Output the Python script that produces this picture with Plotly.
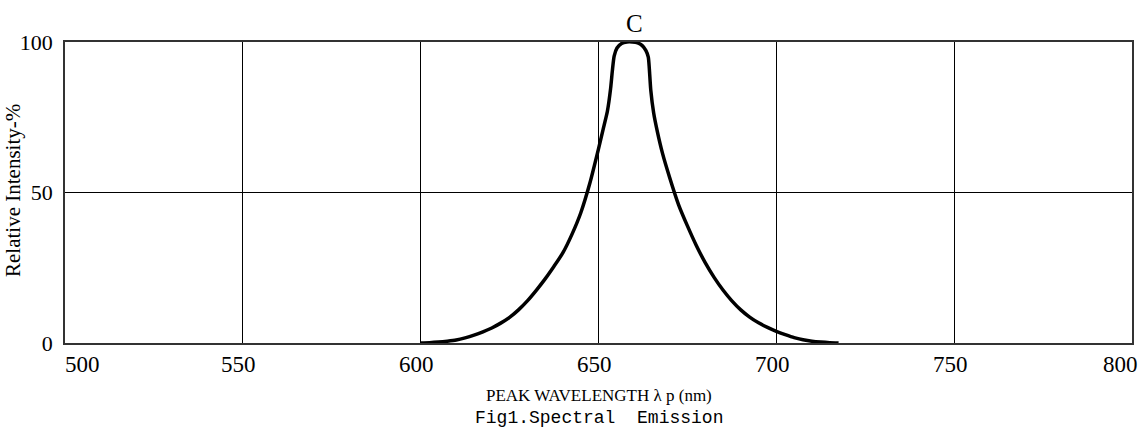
import plotly.graph_objects as go

# Spectral emission curve
wavelength = [600, 602.5, 605, 607.5, 610, 612.5, 615, 617.5, 620, 622.5, 625, 627.5, 630,
              632.5, 635, 637.5, 640, 642.5, 645, 647.5, 650, 651.3, 652.5, 653.4, 653.9,
              654.4, 655.2, 656.5, 658, 659.5, 661, 662.3, 663.3, 664, 664.3, 664.7, 665.5,
              666.5, 668, 670, 672.5, 675, 677.5, 680, 682.5, 685, 687.5, 690, 692.5, 695,
              697.5, 700, 702.5, 705, 707.5, 710, 712.5, 715, 717.5]
intensity = [0, 0.1, 0.3, 0.6, 1.0, 1.7, 2.6, 3.7, 5.0, 6.6, 8.5, 11.0, 14.0,
             17.5, 21.3, 25.5, 30.0, 36.0, 43.2, 52.8, 64.5, 71.0, 77.0, 84.5, 90.5,
             95.3, 98.0, 99.5, 100, 100, 99.7, 98.8, 97.2, 95.0, 91.0, 84.0, 76.5,
             70.5, 63.0, 55.0, 46.0, 38.9, 32.4, 26.7, 21.8, 17.6, 14.0, 11.0, 8.6, 6.7,
             5.2, 3.9, 2.8, 1.8, 1.1, 0.6, 0.3, 0.1, 0.0]

x_ticks = [500, 550, 600, 650, 700, 750, 800]
y_ticks = [0, 50, 100]
peak_label = "C"
peak_x = 660
x_title = "PEAK WAVELENGTH λ p (nm)"
y_title = "Relative Intensity-%"
fig_caption = "Fig1.Spectral  Emission"

SERIF = "Liberation Serif"

fig = go.Figure()
fig.add_trace(go.Scatter(
    x=wavelength, y=intensity, mode="lines",
    line=dict(color="#000000", width=3.5, shape="spline", smoothing=0.6),
    cliponaxis=False, showlegend=False, hoverinfo="skip"))

annotations = []
for t in x_ticks:
    if t == x_ticks[0]:
        anchor, shift = "left", -2
    elif t == x_ticks[-1]:
        anchor, shift = "right", 8
    else:
        anchor, shift = "center", -4
    annotations.append(dict(x=t, y=0, xref="x", yref="paper", text=str(t),
                            showarrow=False, xanchor=anchor, yanchor="middle",
                            xshift=shift, yshift=-21,
                            font=dict(family=SERIF, size=23, color="#000")))

annotations.append(dict(x=peak_x, y=100, xref="x", yref="y", text=peak_label,
                        showarrow=False, xanchor="center", yanchor="middle", yshift=19,
                        font=dict(family=SERIF, size=25, color="#000")))
annotations.append(dict(x=0.5, y=-0.173, xref="paper", yref="paper", text=x_title,
                        showarrow=False, xanchor="center", yanchor="middle",
                        font=dict(family=SERIF, size=17, color="#000")))
annotations.append(dict(x=0.5, y=-0.25, xref="paper", yref="paper", text=fig_caption,
                        showarrow=False, xanchor="center", yanchor="middle",
                        font=dict(family="Liberation Mono", size=18, color="#000")))
annotations.append(dict(x=0, y=0.505, xref="paper", yref="paper", text=y_title,
                        showarrow=False, xanchor="center", yanchor="middle",
                        textangle=-90, xshift=-52,
                        font=dict(family=SERIF, size=21, color="#000")))

fig.update_layout(
    width=1144, height=428,
    margin=dict(l=65, r=10, t=42, b=85),
    paper_bgcolor="white", plot_bgcolor="white",
    annotations=annotations,
    xaxis=dict(range=[500, 800], tickvals=x_ticks, showticklabels=False,
               showgrid=True, gridcolor="#000", gridwidth=1, zeroline=False,
               showline=True, mirror=True, linecolor="#333", linewidth=1.5, ticks=""),
    yaxis=dict(range=[0, 100], tickvals=y_ticks, showgrid=True, gridcolor="#000",
               gridwidth=1, zeroline=False, showline=True, mirror=True,
               linecolor="#333", linewidth=1.5, ticks="", ticklabelstandoff=6,
               tickfont=dict(family=SERIF, size=22, color="#000")),
)

fig.write_html("out.html")
